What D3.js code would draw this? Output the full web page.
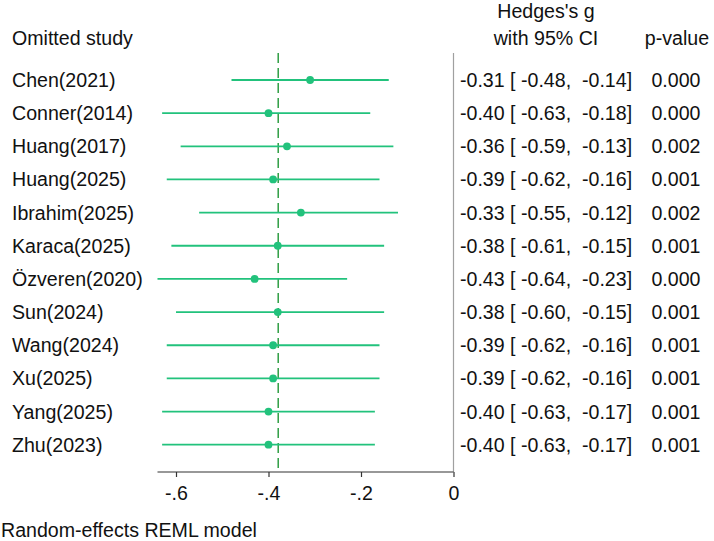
<!DOCTYPE html>
<html lang="en">

<head>
  <meta charset="utf-8">
  <title>Leave-one-out</title>
  <script src="https://d3js.org/d3.v7.min.js" charset="utf-8"></script>
  <style type="text/css">
    body { margin: 0; background: #fff; }
    text { font-family: "Liberation Sans", Arial, sans-serif; font-size: 19.6px; fill: #111; }
  </style>
</head>

<body>
  <script type="text/javascript">

    var studies = ["Chen(2021)", "Conner(2014)", "Huang(2017)", "Huang(2025)", "Ibrahim(2025)", "Karaca(2025)",
      "Özveren(2020)", "Sun(2024)", "Wang(2024)", "Xu(2025)", "Yang(2025)", "Zhu(2023)"];
    var est = [-0.31, -0.40, -0.36, -0.39, -0.33, -0.38, -0.43, -0.38, -0.39, -0.39, -0.40, -0.40];
    var lo = [-0.48, -0.63, -0.59, -0.62, -0.55, -0.61, -0.64, -0.60, -0.62, -0.62, -0.63, -0.63];
    var hi = [-0.14, -0.18, -0.13, -0.16, -0.12, -0.15, -0.23, -0.15, -0.16, -0.16, -0.17, -0.17];
    var pvals = ["0.000", "0.000", "0.002", "0.001", "0.002", "0.001", "0.000", "0.001", "0.001", "0.001", "0.001", "0.001"];
    var overall = -0.379;
    var xTicks = [-0.6, -0.4, -0.2, 0];
    var xTickLabels = ["-.6", "-.4", "-.2", "0"];

    var W = 714, H = 541;
    var svg = d3.select("body").append("svg")
      .attr("width", W)
      .attr("height", H);

    var x = d3.scaleLinear().domain([-0.6, 0]).range([176, 453.5]);
    var y = d3.scalePoint().domain(studies).range([80, 444.7]);
    var axisY = 472, topY = 53;

    var ci = "#22c27c", ref = "#2f9e44", grey = "#a0a0a0";

    // headers
    svg.append("text").attr("x", 12).attr("y", 45).text("Omitted study");
    svg.append("text").attr("x", 546).attr("y", 18).attr("text-anchor", "middle").text("Hedges's g");
    svg.append("text").attr("x", 546).attr("y", 45).attr("text-anchor", "middle").text("with 95% CI");
    svg.append("text").attr("x", 677).attr("y", 45).attr("text-anchor", "middle").text("p-value");

    // vertical line at zero
    svg.append("line")
      .attr("x1", x(0)).attr("x2", x(0))
      .attr("y1", topY).attr("y2", axisY)
      .attr("stroke", grey).attr("stroke-width", 1.2);

    // overall estimate
    svg.append("line")
      .attr("x1", x(overall)).attr("x2", x(overall))
      .attr("y1", topY).attr("y2", axisY)
      .attr("stroke", ref).attr("stroke-width", 1.5)
      .attr("stroke-dasharray", "10,5");

    var rows = svg.selectAll("g.row")
      .data(studies)
      .enter()
      .append("g")
      .attr("class", "row");

    rows.append("line")
      .attr("x1", function (d, i) { return x(lo[i]); })
      .attr("x2", function (d, i) { return x(hi[i]); })
      .attr("y1", function (d) { return y(d); })
      .attr("y2", function (d) { return y(d); })
      .attr("stroke", ci).attr("stroke-width", 1.8);

    rows.append("circle")
      .attr("cx", function (d, i) { return x(est[i]); })
      .attr("cy", function (d) { return y(d); })
      .attr("r", 3.9)
      .attr("fill", ci);

    rows.append("text")
      .attr("x", 12)
      .attr("y", function (d) { return y(d) + 7; })
      .text(function (d) { return d; });

    rows.append("text")
      .attr("x", 460)
      .attr("y", function (d) { return y(d) + 7; })
      .style("white-space", "pre")
      .text(function (d, i) {
        return est[i].toFixed(2) + " [ " + lo[i].toFixed(2) + ",  " + hi[i].toFixed(2) + "]";
      });

    rows.append("text")
      .attr("x", 676)
      .attr("y", function (d) { return y(d) + 7; })
      .attr("text-anchor", "middle")
      .text(function (d, i) { return pvals[i]; });

    // x axis
    var xAxis = d3.axisBottom(x)
      .tickValues(xTicks)
      .tickSize(5)
      .tickSizeOuter(0)
      .tickFormat(function (d, i) { return xTickLabels[i]; });

    var gx = svg.append("g")
      .attr("transform", "translate(0," + axisY + ")")
      .call(xAxis);
    gx.select(".domain").remove();
    gx.append("line")
      .attr("x1", x(d3.min(lo))).attr("x2", x(0))
      .attr("stroke", "#333").attr("stroke-width", 1.2);
    gx.selectAll(".tick line").attr("stroke", "#333").attr("stroke-width", 1.2);
    gx.selectAll(".tick text")
      .attr("y", 14)
      .style("font-family", "'Liberation Sans', Arial, sans-serif")
      .style("font-size", "19.6px")
      .attr("fill", "#111");

    svg.append("text").attr("x", 1).attr("y", 537).text("Random-effects REML model");

  </script>
</body>

</html>
